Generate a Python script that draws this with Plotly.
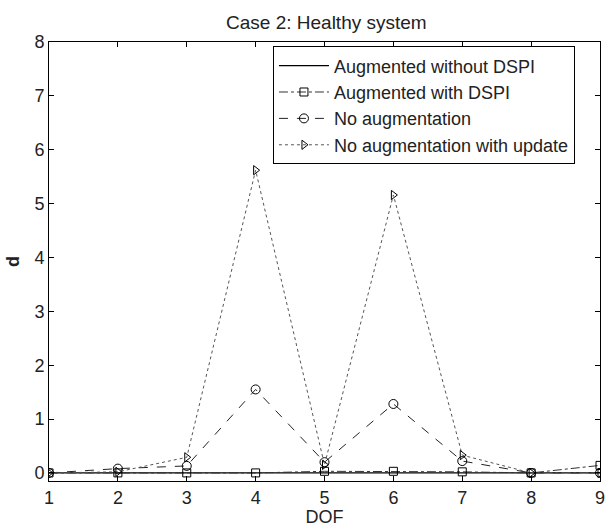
import plotly.graph_objects as go

dof = [1, 2, 3, 4, 5, 6, 7, 8, 9]
aug_without_dspi = [0.0, 0.0, 0.0, 0.0, 0.0, 0.0, 0.0, 0.0, 0.0]
aug_with_dspi = [0.0, 0.0, 0.0, 0.0, 0.03, 0.03, 0.02, 0.0, 0.14]
no_aug = [0.0, 0.08, 0.13, 1.55, 0.2, 1.28, 0.22, 0.0, 0.0]
no_aug_update = [0.0, 0.02, 0.29, 5.62, 0.15, 5.16, 0.33, 0.0, 0.0]

FONT = "Liberation Sans, Arial, Helvetica, sans-serif"

fig = go.Figure()
fig.add_trace(go.Scatter(x=dof, y=aug_without_dspi, mode="lines",
                         name="Augmented without DSPI",
                         line=dict(color="black", width=1.2)))
fig.add_trace(go.Scatter(x=dof, y=aug_with_dspi, mode="lines+markers",
                         name="Augmented with DSPI",
                         line=dict(color="#333333", width=1, dash="dashdot"),
                         marker=dict(symbol="square-open", size=8, color="black",
                                     line=dict(width=1))))
fig.add_trace(go.Scatter(x=dof, y=no_aug, mode="lines+markers",
                         name="No augmentation",
                         line=dict(color="#222222", width=1, dash="dash"),
                         marker=dict(symbol="circle-open", size=9, color="black",
                                     line=dict(width=1))))
fig.add_trace(go.Scatter(x=dof, y=no_aug_update, mode="lines+markers",
                         name="No augmentation with update",
                         line=dict(color="#555555", width=1, dash="dot"),
                         marker=dict(symbol="triangle-right-open", size=8, color="black",
                                     line=dict(width=1))))

axis_common = dict(showline=True, linecolor="black", linewidth=1, mirror="ticks",
                   ticks="inside", ticklen=5, tickcolor="black", showgrid=False,
                   zeroline=False, ticklabeloverflow="allow",
                   tickfont=dict(family=FONT, size=18, color="#222"))

fig.update_layout(
    width=610, height=527,
    margin=dict(l=49, r=5, t=42, b=46),
    paper_bgcolor="white", plot_bgcolor="white",
    title=dict(text="Case 2: Healthy system", x=0.535, xanchor="center",
               y=1 - 22 / 527, yanchor="middle", yref="container",
               font=dict(family=FONT, size=19, color="#222")),
    xaxis=dict(range=[1, 9], tickvals=dof, ticktext=[str(v) for v in dof],
               title=dict(text="DOF", standoff=1,
                          font=dict(family=FONT, size=18, color="#222")),
               **axis_common),
    yaxis=dict(range=[-0.15, 8], tickvals=[0, 1, 2, 3, 4, 5, 6, 7, 8],
               title=dict(text="<b>d</b>", standoff=10,
                          font=dict(family=FONT, size=18, color="#222")),
               **axis_common),
    legend=dict(x=(275 - 49) / 556, xanchor="left", y=0.99, yanchor="top",
                bgcolor="white", bordercolor="black", borderwidth=1,
                font=dict(family=FONT, size=18, color="#222"),
                tracegroupgap=0, itemwidth=50),
    showlegend=True,
)

fig.write_html("out.html")
